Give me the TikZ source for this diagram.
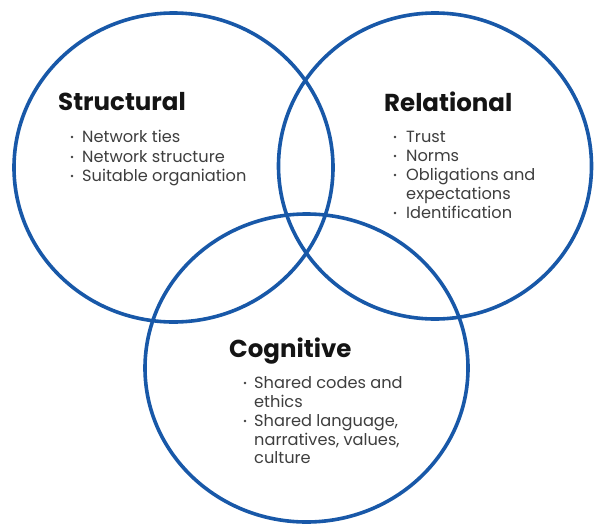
\documentclass[tikz,border=0pt]{standalone}
\usepackage{fontspec}
\setmainfont{Poppins}
\usetikzlibrary{shapes.geometric}
\definecolor{ringblue}{RGB}{24,88,168}
\definecolor{headink}{RGB}{20,20,20}
\definecolor{itemink}{RGB}{62,62,62}
\begin{document}
\begin{tikzpicture}[x=1pt,y=-1pt,
  ring/.style={ellipse,draw=ringblue,line width=3.6pt,inner sep=0pt},
  head/.style={anchor=base west,inner sep=0pt,text=headink,
    font=\fontsize{24.5}{24.5}\selectfont\bfseries},
  item/.style={anchor=base west,inner sep=0pt,text=itemink,
    font=\fontsize{16.2}{19}\selectfont},
  bul/.style={circle,fill=itemink,inner sep=0pt,minimum size=2.6pt}]
\useasboundingbox[fill=white] (0,0) rectangle (594,525);

% the three overlapping rings
\node[ring,minimum width=319pt,minimum height=309pt] (structural) at (173.5,167.5) {};
\node[ring,minimum width=313pt,minimum height=306pt] (relational) at (435,166) {};
\node[ring,minimum width=323pt,minimum height=308pt] (cognitive) at (306.5,368) {};

% Structural
\node[head] (sT) at (58,110) {Structural};
\node[bul] (sb1) at (72,137) {};
\node[item] (s1) at (82,142) {Network ties};
\node[bul] (sb2) at (72,157) {};
\node[item] (s2) at (82,162) {Network structure};
\node[bul] (sb3) at (72,176) {};
\node[item] (s3) at (82,181) {Suitable organiation};

% Relational
\node[head] (rT) at (384,111) {Relational};
\node[bul] (rb1) at (395,137) {};
\node[item] (r1) at (406,142) {Trust};
\node[bul] (rb2) at (395,156) {};
\node[item] (r2) at (406,161) {Norms};
\node[bul] (rb3) at (395,175) {};
\node[item] (r3) at (406,180) {Obligations and};
\node[item] (r4) at (406,199) {expectations};
\node[bul] (rb5) at (395,213) {};
\node[item] (r5) at (406,218) {Identification};

% Cognitive
\node[head] (cT) at (229,357) {Cognitive};
\node[bul] (cb1) at (245,383) {};
\node[item] (c1) at (254,388) {Shared codes and};
\node[item] (c2) at (254,407) {ethics};
\node[bul] (cb3) at (245,421) {};
\node[item] (c3) at (254,426) {Shared language,};
\node[item] (c4) at (254,445) {narratives, values,};
\node[item] (c5) at (254,463) {culture};
\end{tikzpicture}
\end{document}
